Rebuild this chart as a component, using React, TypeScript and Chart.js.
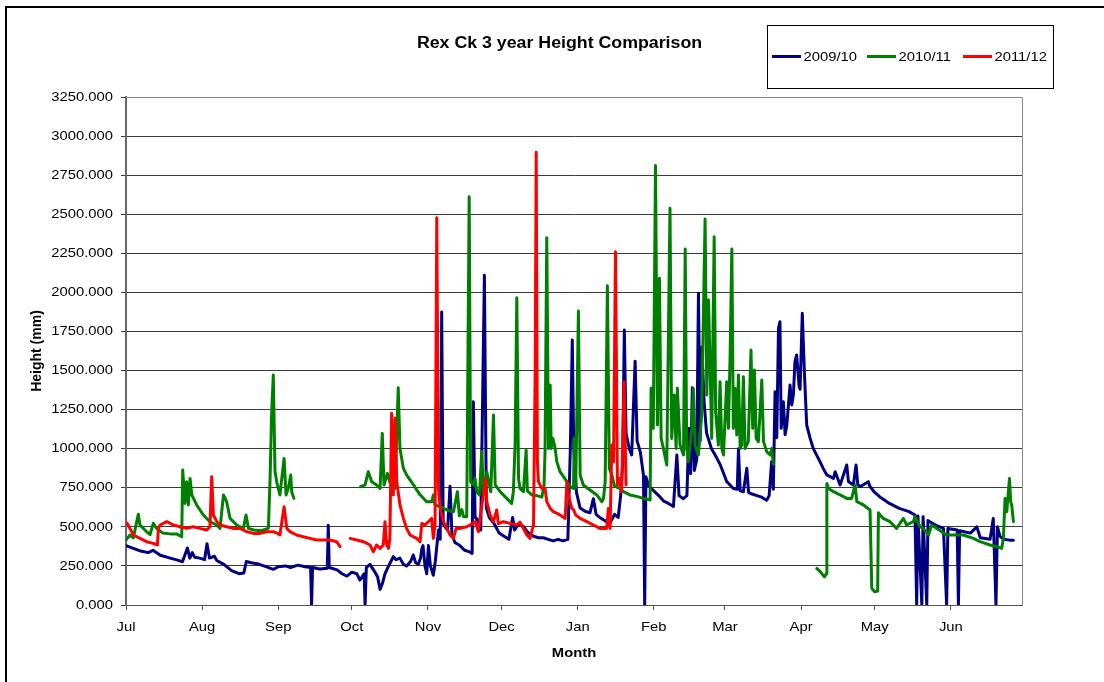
import { useEffect, useRef } from 'react';
import { Chart, registerables } from 'chart.js';

Chart.register(...registerables);

const chartTitle = 'Rex Ck 3 year Height Comparison';
const xAxisTitle = 'Month';
const yAxisTitle = 'Height (mm)';

const monthLabels = ['Jul', 'Aug', 'Sep', 'Oct', 'Nov', 'Dec', 'Jan', 'Feb', 'Mar', 'Apr', 'May', 'Jun'];
const monthStartDays = [0, 31, 62, 92, 123, 153, 184, 215, 244, 275, 305, 336];
const yTickValues = [0, 250, 500, 750, 1000, 1250, 1500, 1750, 2000, 2250, 2500, 2750, 3000, 3250];

const seriesNames = ['2009/10', '2010/11', '2011/12'];
const seriesColors = ['#000080', '#008000', '#FF0000'];

// [day of season (0 = 1 Jul), height mm]
const series2009: [number, number | null][] = [
  [0, 380], [3, 362], [6, 345], [9, 335], [11, 350], [14, 318], [18, 300], [21, 287], [23, 277], [25, 365],
  [26, 300], [27, 335], [28, 305], [30, 300], [32, 290], [33, 392], [34, 300], [36, 312], [37, 285], [40, 258],
  [43, 220], [46, 200], [48, 205], [49, 278], [51, 270], [54, 262], [57, 245], [60, 228], [62, 245], [65, 250],
  [67, 240], [70, 255], [73, 245], [75.2, 240], [75.6, 0], [76, 240], [79, 230], [82, 235], [82.4, 510], [82.8, 240],
  [86, 225], [88, 200], [90, 185], [92, 210], [94, 200], [95.3, 160], [97, 200], [97.4, 0], [97.9, 240], [99.4, 260],
  [101, 220], [102.5, 180], [103.5, 100], [104.5, 140], [105.5, 200], [107, 250], [108.9, 310], [110, 290], [111.6, 300], [113, 260],
  [114.3, 250], [116, 280], [117, 320], [118, 270], [119.1, 260], [120, 300], [120.5, 360], [121, 380], [121.8, 250], [122.5, 200],
  [123.2, 380], [124, 250], [125.2, 190], [126, 280], [127.3, 480], [128, 420], [128.6, 1875], [129.2, 520], [130, 500], [131, 480],
  [132, 760], [132.8, 450], [134, 400], [136, 380], [138, 350], [140, 340], [141, 330], [141.5, 1300], [142.2, 560], [143, 550],
  [144.5, 480], [146, 2110], [146.8, 620], [148, 560], [150, 520], [152, 460], [154, 440], [156, 420], [157.5, 560], [158.3, 480],
  [160, 520], [162, 500], [164, 460], [166, 440], [168, 430], [170, 430], [172, 420], [174, 410], [176, 420], [178, 410],
  [180, 420], [181, 1000], [181.8, 1695], [182.4, 1000], [183.5, 720], [185, 620], [187, 600], [189, 590], [190.4, 680], [191.5, 580],
  [193, 560], [195, 540], [197, 520], [199, 580], [200.5, 560], [201.5, 700], [202.3, 900], [203, 1760], [203.7, 1100], [205, 1000],
  [206, 960], [207.4, 1560], [208.2, 1050], [209.5, 980], [210.8, 830], [211.3, 0], [211.8, 820], [213, 760], [215, 730], [217, 700],
  [219, 665], [221, 650], [223, 630], [224.4, 960], [225.3, 700], [227, 680], [228.5, 700], [229.3, 1130], [230, 840], [230.7, 1390],
  [231.5, 860], [232.5, 930], [233.2, 1995], [233.9, 1050], [234.6, 1650], [235.5, 1300], [236.5, 1100], [237.5, 1050], [238.5, 1000], [240, 960],
  [242, 900], [244.7, 790], [247.4, 745], [249, 740], [249.5, 1000], [250.2, 730], [251.5, 725], [252.9, 875], [253.6, 720], [255, 710],
  [257, 700], [259, 690], [261, 670], [262, 700], [263, 917], [263.7, 740], [264.4, 1365], [265.1, 1070], [265.8, 1770], [266.4, 1812],
  [266.9, 1130], [267.8, 1300], [268.5, 1090], [269.2, 1150], [270.5, 1407], [271.2, 1280], [271.9, 1350], [272.5, 1557], [273.2, 1600], [274.2, 1400],
  [274.6, 1380], [275.5, 1866], [276.4, 1470], [277.3, 1150], [278.7, 1066], [280, 1000], [282.7, 917], [284, 874], [285.5, 832], [288.2, 810],
  [288.9, 853], [290.9, 768], [293.6, 896], [294.3, 790], [296.3, 768], [297.4, 896], [298.1, 770], [299, 757], [302.4, 789], [303, 760],
  [305, 720], [307, 693], [311, 650], [315, 618], [319, 597], [321.4, 576], [322.1, 0], [322.6, 570], [324.2, 0], [324.7, 565],
  [326.2, 0], [326.7, 540], [327.5, 533], [330, 510], [333, 490], [334.3, 0], [334.8, 490], [338.6, 480], [339.1, 0], [339.6, 475],
  [341, 470], [344, 460], [346.6, 500], [348, 430], [352, 420], [353.3, 554], [354.4, 0], [355, 500], [356, 440], [357.5, 420],
  [360, 415], [361.5, 415],
];

const series2010: [number, number | null][] = [
  [0, 416], [1.6, 448], [3, 430], [5, 580], [5.7, 512], [8.4, 469], [9.8, 450], [11.1, 522], [12.5, 490], [15, 460],
  [18, 455], [20.6, 455], [22.7, 437], [23.1, 864], [24, 650], [24.7, 789], [25.4, 640], [26.1, 810], [26.8, 704], [28.8, 640],
  [31.5, 576], [34.2, 533], [36.9, 512], [38.3, 490], [39.7, 704], [41, 661], [42.4, 554], [45.1, 512], [47.8, 490], [48.9, 576],
  [49.9, 490], [52, 480], [55, 475], [58, 490], [58.7, 810], [59.3, 1215], [60, 1471], [60.7, 853], [61.5, 780], [62.7, 704],
  [64.4, 938], [65.2, 704], [66.1, 746], [67.1, 832], [67.5, 725], [68.4, 682], [68.6, null], [95.6, 757], [97.4, 768], [98.7, 853],
  [100.1, 789], [102.1, 768], [103.5, 746], [104.4, 1098], [105.1, 768], [106.5, 842], [107.6, 780], [109.6, 746], [110.9, 1390], [111.6, 1002],
  [113, 874], [114.3, 832], [117.1, 768], [119.8, 705], [122.5, 661], [124.6, 661], [125.2, 704], [125.9, 640], [127.9, 629], [130.7, 608],
  [133.4, 597], [135, 725], [135.8, 570], [136.8, 610], [137.5, 565], [138.8, 565], [139.8, 2612], [140.4, 789], [141.5, 770], [142.2, 810],
  [142.9, 725], [144, 704], [144.9, 981], [145.6, 725], [147, 853], [147.6, 800], [148.6, 725], [149.7, 1215], [150.4, 768], [152.4, 725],
  [155.1, 682], [157.1, 650], [157.8, 725], [158.5, 1023], [159.2, 1966], [159.9, 810], [160.5, 746], [161.9, 725], [163, 991], [163.5, 730],
  [165.3, 704], [167.3, 700], [169.4, 690], [170.3, 768], [170.7, 981], [171.4, 2350], [172.1, 1002], [172.8, 1407], [173.2, 1002], [173.9, 1066],
  [174.8, 1002], [175.5, 917], [176.8, 853], [179.6, 789], [180.9, 757], [182.3, 745], [182.6, 1066], [183.2, 750], [184.3, 1881], [185, 832],
  [186.3, 768], [189, 736], [191.8, 704], [193.8, 661], [194.5, 680], [195.2, 789], [196.1, 2043], [196.9, 874], [197.9, 832], [199, 760],
  [201.3, 745], [202.6, 725], [205.3, 704], [208, 695], [210.8, 682], [213.5, 672], [213.9, 1386], [214.8, 1130], [215.7, 2811], [216.5, 1152],
  [217.3, 2090], [218, 1066], [218.9, 1002], [220.3, 896], [221.6, 2538], [222.3, 1066], [223.3, 1343], [224.1, 1002], [224.6, 1386], [225.7, 1023],
  [227.1, 960], [227.8, 2277], [228.4, 1002], [229.1, 917], [230.5, 1130], [231.1, 1386], [231.8, 1023], [233.2, 960], [234.5, 1215], [235.9, 2470],
  [236.6, 1343], [237.3, 1951], [237.9, 1557], [238.6, 1066], [239.6, 2356], [240.2, 1237], [241.3, 1023], [242, 1429], [242.7, 1002], [243.4, 960],
  [244.7, 1429], [245.4, 1130], [246.1, 1600], [246.8, 2277], [247.4, 1130], [248.1, 1386], [248.8, 1088], [249.5, 1471], [250.2, 1002], [250.8, 1023],
  [251.5, 1460], [252.2, 1002], [253.5, 1045], [254.6, 1631], [255.3, 1130], [256, 1503], [256.7, 1066], [257.6, 1045], [259, 1439], [259.7, 1045],
  [261, 981], [262.4, 960], [263.1, 1002], [263.7, 900], [264, null], [281.4, 234], [283, 210], [284.5, 180], [285.3, 200], [285.5, 778],
  [286.2, 746], [288.2, 725], [290.9, 704], [293.6, 682], [295.6, 682], [297, 768], [297.7, 661], [300.4, 640], [303.1, 608], [303.8, 107],
  [305, 85], [306.2, 90], [306.5, 590], [307.2, 576], [308.5, 554], [311.2, 533], [313.9, 490], [316.7, 554], [318, 512], [320.7, 533],
  [321.4, 565], [323.5, 500], [324.8, 490], [326.9, 448], [328.2, 512], [330.3, 490], [334.3, 448], [337, 448], [341.1, 448], [345.2, 426],
  [347.9, 405], [352, 384], [354.7, 373], [356.7, 362], [357.4, 426], [358.1, 682], [358.8, 597], [359.9, 810], [360.4, 661], [360.8, 640],
  [361.5, 533],
];

const series2011: [number, number | null][] = [
  [0.5, 522], [1.6, 490], [3, 448], [5.7, 426], [8.4, 405], [11.1, 394], [12.8, 384], [13.2, 490], [13.9, 512], [16.6, 533],
  [19.3, 512], [22, 501], [24.7, 490], [27.4, 501], [30.1, 490], [32.9, 480], [34.2, 500], [34.9, 821], [35.6, 576], [37, 533],
  [38.3, 512], [41, 501], [43.7, 490], [46.4, 490], [49.2, 469], [51.9, 458], [54.6, 458], [57.3, 469], [60, 469], [61.5, 460],
  [62.7, 448], [64.4, 629], [65.5, 490], [66.8, 469], [69.5, 448], [72.2, 437], [75, 426], [77.7, 416], [80.4, 416], [83.1, 416],
  [85.8, 405], [87.2, 373], [89, null], [91.3, 426], [94, 416], [96.7, 405], [99.4, 384], [100.8, 341], [102.1, 384], [103.5, 362],
  [104.8, 384], [105.5, 533], [106.2, 384], [106.9, 362], [107.5, 426], [108.2, 1226], [108.9, 704], [109.6, 1194], [110.3, 789], [111.6, 640],
  [113, 554], [114.3, 490], [115.7, 448], [118.4, 426], [119.8, 405], [120.5, 522], [121.8, 512], [123.2, 533], [124.5, 554], [125.2, 426],
  [125.9, 512], [126.6, 2478], [127.3, 746], [128, 618], [129.3, 533], [130.7, 490], [132, 448], [133.4, 426], [134.5, 490], [136.1, 490],
  [138.8, 501], [140.2, 512], [142.2, 533], [143.6, 469], [144.2, 554], [145.6, 704], [146.4, 810], [147, 661], [148.3, 576], [149.7, 533],
  [151, 608], [151.7, 520], [153.7, 533], [156.5, 522], [159.2, 512], [160.5, 530], [161.9, 490], [163.3, 448], [164.6, 426], [166, 512],
  [166.7, 1514], [167.1, 2896], [167.6, 917], [168, 789], [169.4, 746], [170.7, 746], [171.4, 661], [172.8, 618], [174.1, 597], [176.8, 576],
  [178.9, 554], [179.6, 789], [180.2, 704], [181.6, 618], [182.3, 610], [183.2, 576], [185, 554], [187.7, 533], [190.4, 512], [193.1, 490],
  [195.8, 490], [196.5, 618], [197.2, 490], [197.9, 1023], [198.6, 917], [199.4, 2260], [200.2, 768], [201, 810], [201.9, 725], [202.9, 1429],
  [203.7, 768],
];

const allSeries = [series2009, series2010, series2011];

const TEXT_STRETCH = 1.11;
const FONT = '"Liberation Sans", Arial, sans-serif';

function drawText(ctx: CanvasRenderingContext2D, text: string, x: number, y: number, font: string, align: CanvasTextAlign, rotate = 0) {
  ctx.save();
  ctx.font = font;
  ctx.fillStyle = '#000';
  ctx.textAlign = align;
  ctx.textBaseline = 'middle';
  ctx.translate(x, y);
  if (rotate) ctx.rotate(rotate);
  ctx.scale(rotate ? 1 : TEXT_STRETCH, 1);
  ctx.fillText(text, 0, 0);
  ctx.restore();
}

const decorPlugin = {
  id: 'decor',
  afterDraw(chart: any) {
    const ctx: CanvasRenderingContext2D = chart.ctx;
    const { left, right, top, bottom } = chart.chartArea;
    const xs = chart.scales.x;
    const ys = chart.scales.y;

    // plot area border (top/right)
    ctx.save();
    ctx.strokeStyle = '#8a8a8a';
    ctx.lineWidth = 1;
    ctx.beginPath();
    ctx.moveTo(left, top + 0.5);
    ctx.lineTo(right + 0.5, top + 0.5);
    ctx.lineTo(right + 0.5, bottom);
    ctx.stroke();
    ctx.restore();

    // outer chart border
    ctx.save();
    ctx.strokeStyle = '#000';
    ctx.lineWidth = 2;
    ctx.strokeRect(6, 7, 3000, 3000);
    ctx.restore();

    // title
    drawText(ctx, chartTitle, 559.5, 44, `bold 16px ${FONT}`, 'center');

    // y tick labels
    yTickValues.forEach((v) => {
      drawText(ctx, v.toFixed(3), 113, ys.getPixelForValue(v), `13.33px ${FONT}`, 'right');
    });
    // x tick labels
    monthStartDays.forEach((d, i) => {
      drawText(ctx, monthLabels[i], xs.getPixelForValue(d), 627, `13.33px ${FONT}`, 'center');
    });

    // axis titles
    drawText(ctx, xAxisTitle, (left + right) / 2, 653, `bold 13.33px ${FONT}`, 'center');
    drawText(ctx, yAxisTitle, 37, (top + bottom) / 2, `bold 14px ${FONT}`, 'center', -Math.PI / 2);

    // legend
    ctx.save();
    ctx.strokeStyle = '#000';
    ctx.lineWidth = 1;
    ctx.strokeRect(767.5, 25.5, 286, 63);
    const sampleX = [772, 867, 963];
    seriesNames.forEach((name, i) => {
      ctx.strokeStyle = seriesColors[i];
      ctx.lineWidth = 3;
      ctx.beginPath();
      ctx.moveTo(sampleX[i], 56.5);
      ctx.lineTo(sampleX[i] + 29, 56.5);
      ctx.stroke();
      drawText(ctx, name, sampleX[i] + 31.5, 57, `13.33px ${FONT}`, 'left');
    });
    ctx.restore();
  },
};

export default function App() {
  const canvasRef = useRef<HTMLCanvasElement | null>(null);

  useEffect(() => {
    if (!canvasRef.current) return;
    const orders = [3, 2, 1];
    const chart = new Chart(canvasRef.current, {
      type: 'line',
      data: {
        datasets: allSeries.map((s, i) => ({
          label: seriesNames[i],
          data: s.map(([d, v]) => ({ x: d, y: v })),
          borderColor: seriesColors[i],
          backgroundColor: seriesColors[i],
          borderWidth: 3,
          pointRadius: 0,
          tension: 0,
          spanGaps: false,
          borderJoinStyle: 'round' as const,
          borderCapStyle: 'round' as const,
          order: orders[i],
        })),
      },
      options: {
        responsive: false,
        animation: false,
        events: [],
        layout: { padding: { left: 0, top: 97, right: 82, bottom: 0 } },
        plugins: {
          legend: { display: false },
          title: { display: false },
          tooltip: { enabled: false },
        },
        scales: {
          x: {
            type: 'linear',
            min: 0,
            max: 365,
            afterBuildTicks: (scale: any) => {
              scale.ticks = monthStartDays.map((v) => ({ value: v }));
            },
            afterFit: (scale: any) => {
              scale.height = 77;
            },
            ticks: { display: false },
            grid: {
              drawOnChartArea: false,
              drawTicks: true,
              tickLength: 5,
              color: '#555',
            },
            border: { display: true, color: '#555', width: 1 },
          },
          y: {
            type: 'linear',
            min: 0,
            max: 3250,
            afterBuildTicks: (scale: any) => {
              scale.ticks = yTickValues.map((v) => ({ value: v }));
            },
            afterFit: (scale: any) => {
              scale.width = 126;
            },
            ticks: { display: false },
            grid: {
              color: '#3a3a3a',
              lineWidth: 1,
              drawTicks: true,
              tickLength: 5,
            },
            border: { display: true, color: '#666', width: 2 },
          },
        },
      },
      plugins: [decorPlugin],
    });
    return () => chart.destroy();
  }, []);

  return (
    <div style={{ position: 'fixed', left: 0, top: 0, width: 1104, height: 682, overflow: 'hidden', background: '#fff' }}>
      <canvas ref={canvasRef} width={1104} height={682} style={{ width: 1104, height: 682, display: 'block' }} />
    </div>
  );
}
